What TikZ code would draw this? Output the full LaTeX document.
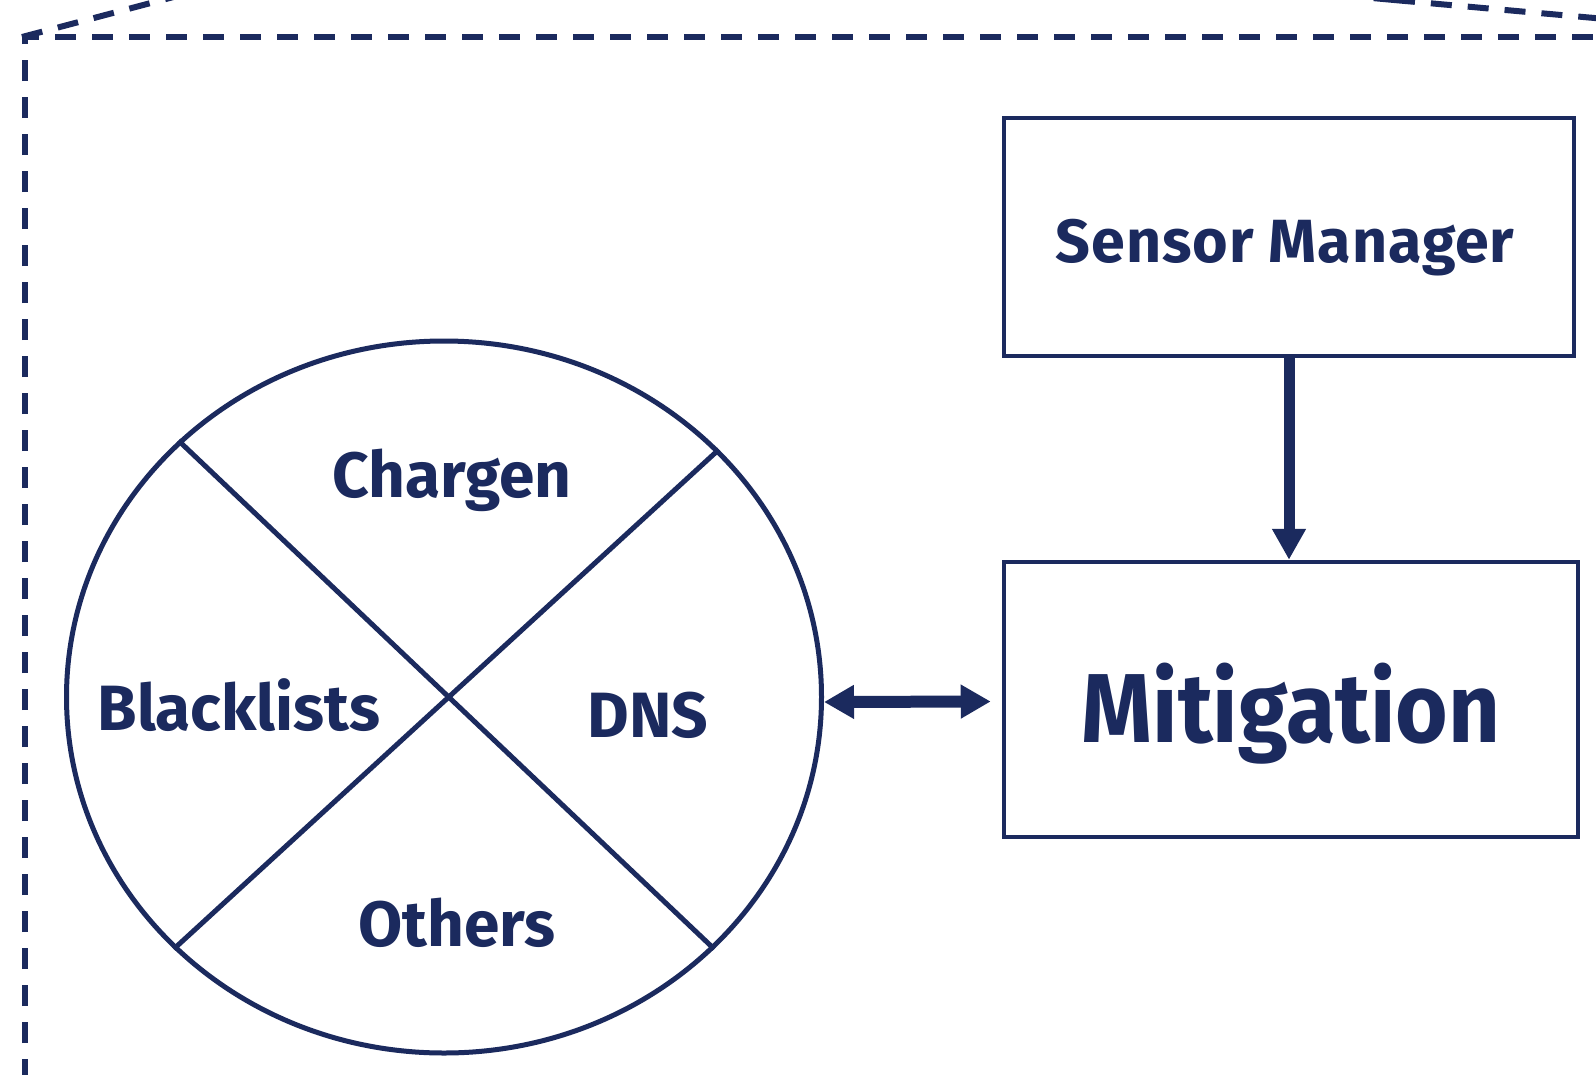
\documentclass[tikz,border=0pt]{standalone}
\usepackage{fontspec}
\setmainfont{Fira Sans}
\newfontfamily\bigfont[FakeStretch=0.92]{Fira Sans}
\newfontfamily\smfont[LetterSpace=1.5]{Fira Sans}
\usetikzlibrary{arrows.meta,shapes.geometric,calc}
\definecolor{navy}{RGB}{27,42,94}
\begin{document}
\begin{tikzpicture}[x=1pt,y=-1pt,
  line width=5pt, draw=navy,
  box/.style={draw=navy,line width=4.5pt,rectangle,inner sep=0pt},
  lbl/.style={text=navy,font=\bfseries\fontsize{64}{66}\selectfont,inner sep=0pt,anchor=base},
  dsh/.style={draw=navy,line width=6pt,dash pattern=on 21pt off 16pt},
  bigarrow/.style={draw=navy,line width=11pt,-{Triangle[width=32pt,length=31pt]}},
  dblarrow/.style={draw=navy,line width=12pt,{Triangle[width=32pt,length=30pt]}-{Triangle[width=32pt,length=30pt]}}
]
\useasboundingbox (0,0) rectangle (1596,1074);
\clip (0,0) rectangle (1596,1074);
\fill[white] (0,0) rectangle (1596,1074);
% dashed outline
\coordinate (c) at (22,37);
\coordinate (ctr) at (1600,37);
\coordinate (cbl) at (25,1080);
\draw[dsh] (cbl) -- (25,37) -- (ctr);
\draw[dsh] (c) -- (200,-10);
\draw[dsh] (1394,0) -- (1600,18.5);
\draw[dsh] (1300,-8.5) -- (1394,0);
% ellipse
\node[ellipse,draw=navy,line width=5pt,minimum width=755pt,minimum height=712pt,inner sep=0pt] (e) at (444,697) {};
\draw (e.136) -- (e.-43.6);
\draw (e.42.7) -- (e.223.8);
\node[lbl] (chargen) at (452,497) {Chargen};
\node[lbl] (black) at (239,730) {Blacklists};
\node[lbl] (dns) at (648,737) {DNS};
\node[lbl] (others) at (457,946) {Others};
% boxes
\node[box,minimum width=570pt,minimum height=238pt] (sensor) at (1289,237) {};
\node[lbl,font=\smfont\bfseries\fontsize{61}{63}\selectfont] (sensortxt) at (1285,262) {Sensor Manager};
\node[box,minimum width=574pt,minimum height=275pt] (mitig) at (1291,699.5) {};
\node[lbl,font=\bigfont\bfseries\fontsize{98}{100}\selectfont] (mitigtxt) at (1291,742) {Mitigation};
% arrows
\draw[bigarrow] ([yshift=4pt]sensor.south) -- (sensor.south |- mitig.north);
\draw[dblarrow] ([yshift=-5pt]e.east) -- ([xshift=-11pt,yshift=-2pt]mitig.west);
\end{tikzpicture}
\end{document}
